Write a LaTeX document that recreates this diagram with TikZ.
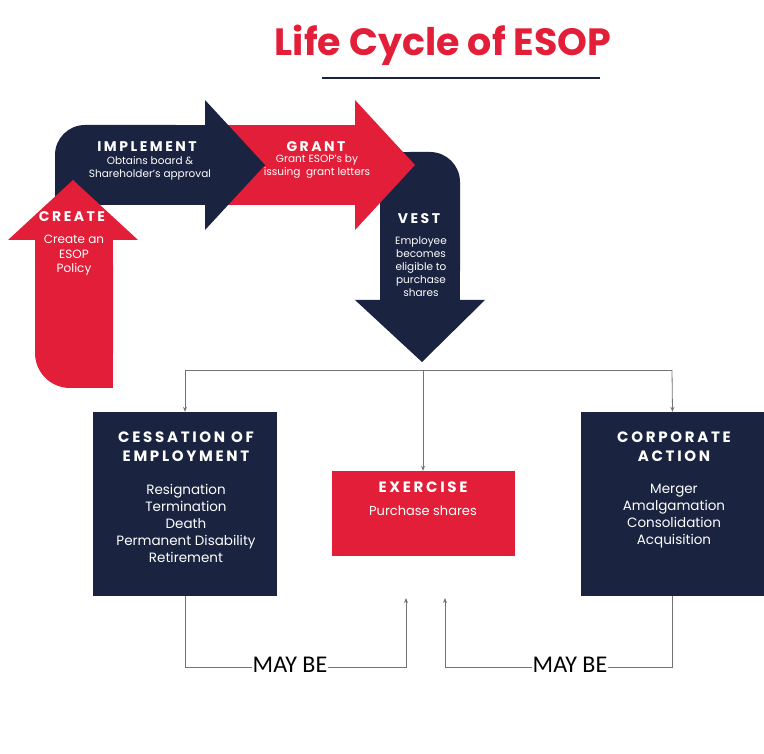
\documentclass[tikz,border=0pt]{standalone}
\usepackage{fontspec}
\setmainfont{Poppins}
\newfontfamily\calfont{Carlito}
\newfontfamily\hdfont[LetterSpace=18]{Poppins}
\usetikzlibrary{arrows.meta}
\definecolor{navy}{HTML}{1A2340}
\definecolor{esred}{HTML}{E31E38}
\tikzset{
 hdtxt/.style={text=white,font=\hdfont\bfseries\fontsize{14}{17}\selectfont,inner sep=0},
 sub/.style={text=white,font=\fontsize{10.5}{13}\selectfont,align=center,inner sep=0},
 boxhd/.style={text=white,font=\hdfont\bfseries\fontsize{15}{19}\selectfont,align=center,inner sep=0},
 boxtx/.style={text=white,font=\fontsize{13.5}{17}\selectfont,align=center,inner sep=0},
 conn/.style={draw=black!55,line width=0.8pt,-{Stealth[length=5pt,width=4pt]}},
 maybe/.style={font=\calfont\fontsize{24}{26}\selectfont,fill=white,inner sep=1pt}
}
\begin{document}
\begin{tikzpicture}[x=1pt,y=-1pt]
\useasboundingbox (0,0) rectangle (764,754);
% title
\node (title) at (443,45) {\fontsize{38}{44}\selectfont\bfseries\color{esred}Life Cycle of ESOP};
\draw[navy,line width=2.5pt] (322,78) -- (600,78);
% vest
\fill[navy,rounded corners=30] (380,152) rectangle (460,301);
\fill[navy] (380,152) rectangle (420,301);
\fill[navy] (380,190) rectangle (460,301);
\fill[navy] (355,300) -- (485,300) -- (422,362) -- cycle;
% grant
\fill[esred] (225,125) rectangle (356,205);
\fill[esred] (355,100) -- (415,165) -- (355,230) -- cycle;
% implement
\fill[navy,rounded corners=30] (55,125) rectangle (206,205);
\fill[navy] (55,165) rectangle (206,205);
\fill[navy] (100,125) rectangle (206,205);
\fill[navy] (205,100) -- (265,165) -- (205,230) -- cycle;
% create
\fill[esred,rounded corners=35] (35,230) rectangle (113,388);
\fill[esred] (35,230) rectangle (113,330);
\fill[esred] (75,230) rectangle (113,388);
\fill[esred] (8,240) -- (73,180) -- (138,240) -- cycle;
% texts
\node[hdtxt] (impl) at (147,147) {IMPLEMENT};
\node[sub,anchor=north] (impls) at (150,156) {Obtains board \&\\Shareholder’s approval};
\node[hdtxt] (grant) at (316,147) {GRANT};
\node[sub,anchor=north] (grants) at (317,155) {Grant ESOP’s by\\issuing\ \ grant letters};
\node[hdtxt] (vest) at (419,219) {VEST};
\node[sub,anchor=north] (vests) at (421,237) {Employee\\becomes\\eligible to\\purchase\\shares};
\node[hdtxt] (create) at (72,217) {CREATE};
\node[sub,anchor=north,font=\fontsize{12}{14.5}\selectfont] (creates) at (74,235) {Create an\\ESOP\\Policy};
% boxes
\node[fill=navy,minimum width=184,minimum height=184,inner sep=0] (cess) at (185,504) {};
\node[fill=esred,minimum width=183,minimum height=85,inner sep=0] (exer) at (423,513.5) {};
\node[fill=navy,minimum width=183,minimum height=184,inner sep=0] (corp) at (672.5,504) {};
\node[boxhd] (cessh) at (186,447) {CESSATION OF\\EMPLOYMENT};
\node[boxtx,anchor=north] (cesst) at (186,484) {Resignation\\Termination\\Death\\Permanent Disability\\Retirement};
\node[boxhd] (exh) at (423,487) {EXERCISE};
\node[boxtx,font=\fontsize{13}{16}\selectfont] (ext) at (423,511) {Purchase shares};
\node[boxhd] (corph) at (674,447) {CORPORATE\\ACTION};
\node[boxtx,anchor=north] (corpt) at (674,484) {Merger\\Amalgamation\\Consolidation\\Acquisition};
% connectors
\coordinate (jl) at (185,370);
\coordinate (jr) at (672,370);
\coordinate (jm) at (423,370);
\draw[draw=black!55,line width=0.8pt] (jl) -- (jr);
\draw[conn] (jl) -- (cess.north);
\draw[conn] (jm) -- (exer.north);
\draw[conn] (jr) -- (corp.north);
\coordinate (e1) at (406,598);
\coordinate (e2) at (445,598);
\draw[conn] (cess.south) -- (185,667) -- (406,667) -- (e1);
\draw[conn] (corp.south) -- (672.5,667) -- (445,667) -- (e2);
\node[maybe] (mb1) at (290,665) {MAY BE};
\node[maybe] (mb2) at (570,665) {MAY BE};
\end{tikzpicture}
\end{document}
